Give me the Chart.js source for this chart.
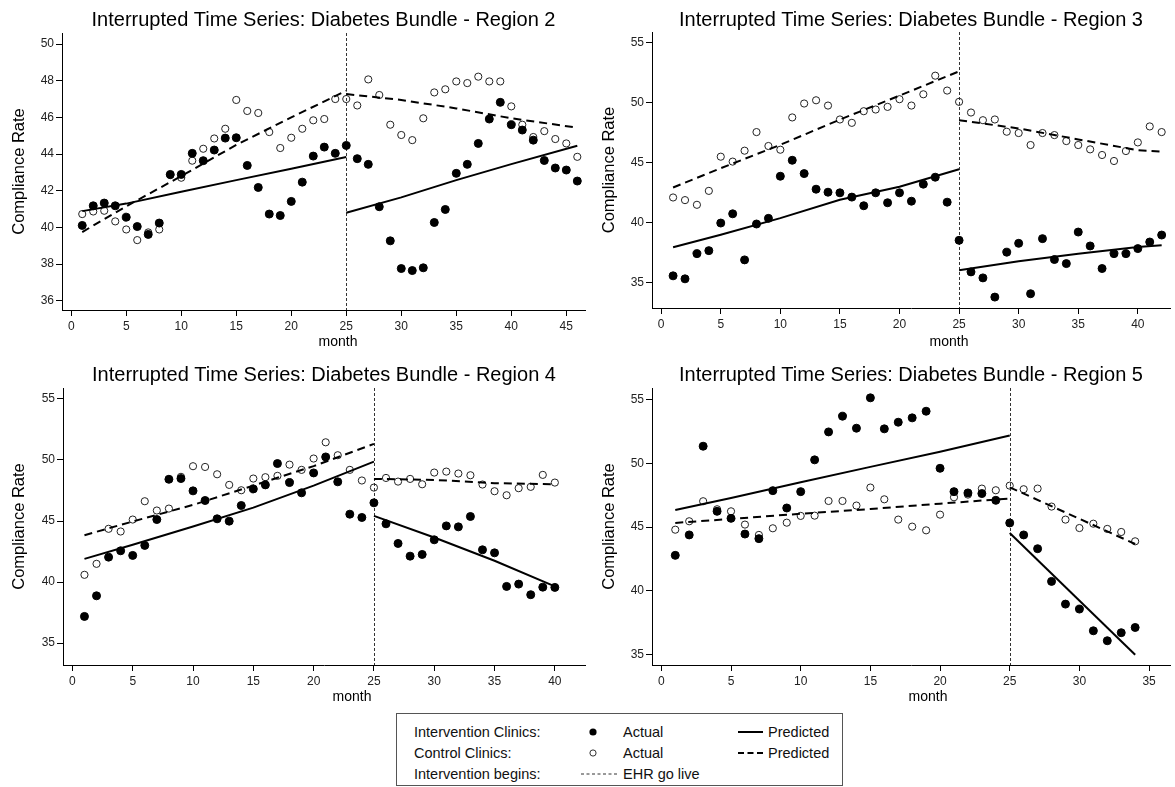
<!DOCTYPE html>
<html>
<head>
<meta charset="utf-8">
<title>Interrupted Time Series: Diabetes Bundle</title>
<script src="https://cdn.jsdelivr.net/npm/chart.js@4.4.0/dist/chart.umd.min.js"></script>
<style>
  body {
    margin: 0;
    width: 1175px;
    height: 787px;
    position: relative;
    overflow: hidden;
    background: #fff;
    font-family: "Liberation Sans", Arial, sans-serif;
  }
  .panel { position: absolute; }
  #legend {
    position: absolute;
    left: 396px;
    top: 713px;
    width: 447px;
    height: 73px;
    box-sizing: border-box;
    border: 1px solid #555;
    font-size: 14.5px;
    color: #111;
  }
  #legend span, #legend svg { position: absolute; }
  #legend span { line-height: 16px; white-space: nowrap; }
</style>
</head>
<body>

<canvas id="region2" class="panel" width="590" height="352" style="left:0;top:0"></canvas>
<canvas id="region3" class="panel" width="585" height="352" style="left:590px;top:0"></canvas>
<canvas id="region4" class="panel" width="590" height="352" style="left:0;top:355px"></canvas>
<canvas id="region5" class="panel" width="585" height="352" style="left:590px;top:355px"></canvas>

<div id="legend">
  <span style="left:17px;top:10px">Intervention Clinics:</span>
  <svg style="left:191px;top:13px" width="10" height="10"><circle cx="5" cy="5" r="3.6" fill="#000"/></svg>
  <span style="left:226px;top:10px">Actual</span>
  <svg style="left:340px;top:16px" width="27" height="4"><line x1="1" y1="2" x2="26" y2="2" stroke="#000" stroke-width="2"/></svg>
  <span style="left:371px;top:10px">Predicted</span>

  <span style="left:17px;top:31px">Control Clinics:</span>
  <svg style="left:191px;top:34px" width="10" height="10"><circle cx="5" cy="5" r="3.1" fill="#fff" stroke="#333" stroke-width="1"/></svg>
  <span style="left:226px;top:31px">Actual</span>
  <svg style="left:340px;top:37px" width="27" height="4"><line x1="1" y1="2" x2="26" y2="2" stroke="#000" stroke-width="2" stroke-dasharray="6,3.5"/></svg>
  <span style="left:371px;top:31px">Predicted</span>

  <span style="left:17px;top:52px">Intervention begins:</span>
  <svg style="left:183px;top:58px" width="40" height="4"><line x1="1" y1="2" x2="39" y2="2" stroke="#333" stroke-width="1" stroke-dasharray="3,2.5"/></svg>
  <span style="left:226px;top:52px">EHR go live</span>
</div>

<script>
// === Data ===

const interventionMonth = 25;
const preMonths = [1, 5, 10, 15, 20, 25];

// Region 2
const r2Intervention = [40.11, 41.18, 41.33, 41.18, 40.56, 40.05, 39.62, 40.24, 42.89, 42.89,
  44.04, 43.64, 44.22, 44.87, 44.89, 43.38, 42.18, 40.73, 40.65, 41.42,
  42.47, 43.89, 44.38, 44.04, 44.47, 43.75, 43.44, 41.13, 39.27, 37.76,
  37.65, 37.8, 40.27, 40.98, 42.95, 43.44, 44.58, 45.91, 46.82, 45.6,
  45.31, 44.76, 43.65, 43.24, 43.13, 42.53];
const r2Control = [40.73, 40.87, 40.91, 40.33, 39.89, 39.31, 39.73, 39.89, 42.85, 42.71,
  43.64, 44.29, 44.85, 45.38, 46.95, 46.35, 46.24, 45.2, 44.33, 44.89,
  45.38, 45.84, 45.91, 47.0, 47.0, 46.65, 48.07, 47.22, 45.6, 45.04,
  44.76, 45.95, 47.36, 47.53, 47.96, 47.87, 48.22, 47.96, 47.96, 46.6,
  45.6, 44.93, 45.25, 44.82, 44.58, 43.85];
const r2IntPredPre = [40.89, 41.3, 41.95, 42.58, 43.2, 43.84];
const r2CtlPredPre = [39.75, 41.15, 42.8, 44.5, 46.0, 47.45];
const r2PostMonths = [25, 30, 35, 40, 46];
const r2IntPredPost = [40.8, 41.64, 42.58, 43.45, 44.45];
const r2CtlPredPost = [47.27, 46.95, 46.49, 45.95, 45.44];
const r2XTicks = [0, 5, 10, 15, 20, 25, 30, 35, 40, 45];
const r2YTicks = [36, 38, 40, 42, 44, 46, 48, 50];

// Region 3
const r3Intervention = [35.58, 35.33, 37.43, 37.68, 39.98, 40.75, 36.91, 39.9, 40.37, 43.88,
  45.21, 44.1, 42.8, 42.55, 42.5, 42.14, 41.42, 42.5, 41.67, 42.5,
  41.8, 43.22, 43.8, 41.72, 38.54, 35.91, 35.41, 33.81, 37.55, 38.29,
  34.09, 38.68, 36.94, 36.6, 39.23, 38.07, 36.19, 37.43, 37.43, 37.85,
  38.4, 38.98];
const r3Control = [42.11, 41.89, 41.5, 42.66, 45.51, 45.1, 46.01, 47.56, 46.4, 46.09,
  48.78, 49.94, 50.21, 49.77, 48.61, 48.33, 49.3, 49.44, 49.66, 50.3,
  49.77, 50.71, 52.26, 51.02, 50.08, 49.19, 48.55, 48.61, 47.59, 47.48,
  46.48, 47.48, 47.31, 46.81, 46.48, 46.12, 45.65, 45.15, 45.98, 46.7,
  48.03, 47.56];
const r3IntPredPre = [37.96, 39.0, 40.39, 41.92, 43.0, 44.46];
const r3CtlPredPre = [42.94, 44.55, 46.5, 48.6, 50.6, 52.62];
const r3PostMonths = [25, 30, 35, 40, 42];
const r3IntPredPost = [36.05, 36.8, 37.43, 37.99, 38.13];
const r3CtlPredPost = [48.55, 47.86, 46.95, 46.05, 45.93];
const r3XTicks = [0, 5, 10, 15, 20, 25, 30, 35, 40];
const r3YTicks = [35, 40, 45, 50, 55];

// Region 4
const r4Intervention = [37.18, 38.87, 42.04, 42.56, 42.18, 43.0, 45.12, 48.42, 48.48, 47.47,
  46.68, 45.18, 44.99, 46.27, 47.63, 47.96, 49.71, 48.15, 47.31, 48.94,
  50.25, 48.21, 45.56, 45.29, 46.49, 44.77, 43.16, 42.12, 42.26, 43.46,
  44.6, 44.52, 45.37, 42.64, 42.39, 39.64, 39.83, 38.96, 39.58, 39.56];
const r4Control = [40.59, 41.49, 44.36, 44.14, 45.12, 46.62, 45.86, 46.02, 48.62, 49.49,
  49.43, 48.83, 47.96, 47.52, 48.48, 48.59, 48.7, 49.62, 49.19, 50.12,
  51.45, 50.39, 49.19, 48.32, 47.74, 48.53, 48.23, 48.45, 48.01, 48.97,
  49.05, 48.89, 48.75, 47.99, 47.44, 47.11, 47.69, 47.8, 48.78, 48.15];
const r4IntPredPre = [41.9, 43.05, 44.55, 46.1, 47.9, 49.87];
const r4CtlPredPre = [43.84, 44.96, 46.32, 47.9, 49.5, 51.32];
const r4PostMonths = [25, 30, 35, 40];
const r4IntPredPost = [45.42, 43.65, 41.74, 39.64];
const r4CtlPredPost = [48.45, 48.37, 48.1, 48.01];
const r4XTicks = [0, 5, 10, 15, 20, 25, 30, 35, 40];
const r4YTicks = [35, 40, 45, 50, 55];

// Region 5
const r5Intervention = [42.79, 44.39, 51.34, 46.24, 45.69, 44.46, 44.1, 47.86, 46.5, 47.78,
  50.27, 52.46, 53.69, 52.75, 55.13, 52.7, 53.22, 53.56, 54.08, 49.61,
  47.78, 47.68, 47.63, 47.1, 45.33, 44.39, 43.31, 40.75, 38.97, 38.58,
  36.88, 36.1, 36.73, 37.14];
const r5Control = [44.8, 45.46, 47.03, 46.4, 46.24, 45.2, 44.39, 44.91, 45.35, 45.88,
  45.9, 47.05, 47.05, 46.69, 48.1, 47.18, 45.59, 45.04, 44.75, 45.98,
  47.34, 47.55, 48.02, 47.89, 48.25, 47.97, 48.02, 46.61, 45.59, 44.93,
  45.27, 44.86, 44.62, 43.89];
const r5IntPredPre = [46.35, 47.29, 48.52, 49.72, 50.9, 52.18];
const r5CtlPredPre = [45.33, 45.64, 46.05, 46.42, 46.84, 47.24];
const r5PostMonths = [25, 34];
const r5IntPredPost = [44.54, 35.0];
const r5CtlPredPost = [48.12, 43.68];
const r5XTicks = [0, 5, 10, 15, 20, 25, 30, 35];
const r5YTicks = [35, 40, 45, 50, 55];

// === Chart helpers ===

const FONT = '"Liberation Sans", Arial, sans-serif';

const toPoints = (vals) => vals.map((v, i) => ({ x: i + 1, y: v }));
const toLine = (months, vals) => months.map((m, i) => ({ x: m, y: vals[i] }));

// vertical go-live line, panel title and axis titles
const panelDecor = {
  id: "panelDecor",
  beforeDatasetsDraw(chart, args, opts) {
    const { ctx, chartArea: a, scales } = chart;
    const px = Math.round(scales.x.getPixelForValue(opts.breakMonth)) + 0.5;
    ctx.save();
    ctx.strokeStyle = "#333";
    ctx.lineWidth = 1;
    ctx.setLineDash([3, 2]);
    ctx.beginPath();
    ctx.moveTo(px, a.top);
    ctx.lineTo(px, a.bottom);
    ctx.stroke();
    ctx.restore();
  },
  afterDraw(chart, args, opts) {
    const { ctx, chartArea: a } = chart;
    ctx.save();
    ctx.fillStyle = "#000";
    ctx.textAlign = "center";
    ctx.textBaseline = "alphabetic";
    ctx.font = "20px " + FONT;
    ctx.fillText(opts.title, (a.left + a.right) / 2, 26);

    ctx.font = "14px " + FONT;
    ctx.fillText("month", opts.monthX, 346);

    ctx.font = "16.5px " + FONT;
    ctx.translate(19, (a.top + a.bottom) / 2);
    ctx.rotate(-Math.PI / 2);
    ctx.textBaseline = "middle";
    ctx.fillText("Compliance Rate", 0, 0);
    ctx.restore();
  }
};

function axisOptions(p, which) {
  const isX = which === "x";
  return {
    type: "linear",
    min: isX ? p.xMin : p.yMin,
    max: isX ? p.xMax : p.yMax,
    grid: { display: true, drawOnChartArea: false, drawTicks: true, tickLength: 6, color: "#000", lineWidth: 1 },
    border: { display: true, color: "#000", width: 1 },
    ticks: {
      color: "#222",
      font: { family: FONT, size: 12 },
      padding: isX ? 3 : 2,
      maxRotation: 0,
      autoSkip: false,
      callback: (v) => String(v)
    },
    afterBuildTicks: (scale) => {
      scale.ticks = (isX ? p.xTicks : p.yTicks).map((v) => ({ value: v }));
    },
    afterFit: (scale) => {
      if (isX) scale.height = p.xAxisHeight;
      else scale.width = p.yAxisWidth;
    }
  };
}

function makePanel(p) {
  const ctx = document.getElementById(p.canvasId);
  if (!ctx) return null;

  const lineStyle = (dashed) => ({
    type: "line",
    borderColor: "#000",
    borderWidth: 2,
    borderDash: dashed ? [8, 5] : [],
    pointRadius: 0,
    fill: false,
    tension: 0,
    order: 0
  });

  return new Chart(ctx, {
    type: "scatter",
    data: {
      datasets: [
        {
          label: "Intervention Clinics: Actual",
          data: toPoints(p.intActual),
          pointRadius: 4,
          pointBackgroundColor: "#000",
          pointBorderColor: "#000",
          pointBorderWidth: 1,
          order: 1
        },
        {
          label: "Control Clinics: Actual",
          data: toPoints(p.ctlActual),
          pointRadius: 3.6,
          pointBackgroundColor: "rgba(255,255,255,0)",
          pointBorderColor: "#222",
          pointBorderWidth: 1,
          order: 2
        },
        { label: "Intervention pre", data: toLine(preMonths, p.intPredPre), ...lineStyle(false) },
        { label: "Intervention post", data: toLine(p.postMonths, p.intPredPost), ...lineStyle(false) },
        { label: "Control pre", data: toLine(preMonths, p.ctlPredPre), ...lineStyle(true) },
        { label: "Control post", data: toLine(p.postMonths, p.ctlPredPost), ...lineStyle(true) }
      ]
    },
    options: {
      responsive: false,
      animation: false,
      events: [],
      layout: { padding: { left: 0, right: p.padRight, top: p.padTop, bottom: 0 } },
      plugins: {
        legend: { display: false },
        tooltip: { enabled: false },
        title: { display: false },
        panelDecor: { breakMonth: interventionMonth, title: p.title, monthX: p.monthX }
      },
      scales: {
        x: axisOptions(p, "x"),
        y: axisOptions(p, "y")
      }
    },
    plugins: [panelDecor]
  });
}

// === Panels ===

makePanel({
  canvasId: "region2",
  title: "Interrupted Time Series: Diabetes Bundle - Region 2",
  intActual: r2Intervention, ctlActual: r2Control,
  intPredPre: r2IntPredPre, ctlPredPre: r2CtlPredPre,
  postMonths: r2PostMonths, intPredPost: r2IntPredPost, ctlPredPost: r2CtlPredPost,
  xMin: -0.84, xMax: 46.7, xTicks: r2XTicks,
  yMin: 35.5, yMax: 50.6, yTicks: r2YTicks,
  yAxisWidth: 62, xAxisHeight: 42, padTop: 33, padRight: 5, monthX: 338
});

makePanel({
  canvasId: "region3",
  title: "Interrupted Time Series: Diabetes Bundle - Region 3",
  intActual: r3Intervention, ctlActual: r3Control,
  intPredPre: r3IntPredPre, ctlPredPre: r3CtlPredPre,
  postMonths: r3PostMonths, intPredPost: r3IntPredPost, ctlPredPost: r3CtlPredPost,
  xMin: -0.77, xMax: 42.7, xTicks: r3XTicks,
  yMin: 32.9, yMax: 55.9, yTicks: r3YTicks,
  yAxisWidth: 62, xAxisHeight: 44, padTop: 32, padRight: 1, monthX: 359
});

makePanel({
  canvasId: "region4",
  title: "Interrupted Time Series: Diabetes Bundle - Region 4",
  intActual: r4Intervention, ctlActual: r4Control,
  intPredPre: r4IntPredPre, ctlPredPre: r4CtlPredPre,
  postMonths: r4PostMonths, intPredPost: r4IntPredPost, ctlPredPost: r4CtlPredPost,
  xMin: -0.78, xMax: 42.5, xTicks: r4XTicks,
  yMin: 33.2, yMax: 55.9, yTicks: r4YTicks,
  yAxisWidth: 63, xAxisHeight: 42, padTop: 33, padRight: 5, monthX: 352
});

makePanel({
  canvasId: "region5",
  title: "Interrupted Time Series: Diabetes Bundle - Region 5",
  intActual: r5Intervention, ctlActual: r5Control,
  intPredPre: r5IntPredPre, ctlPredPre: r5CtlPredPre,
  postMonths: r5PostMonths, intPredPost: r5IntPredPost, ctlPredPost: r5CtlPredPost,
  xMin: -0.67, xMax: 36.5, xTicks: r5XTicks,
  yMin: 34.2, yMax: 55.9, yTicks: r5YTicks,
  yAxisWidth: 62, xAxisHeight: 42, padTop: 33, padRight: 1, monthX: 338
});
</script>
</body>
</html>
